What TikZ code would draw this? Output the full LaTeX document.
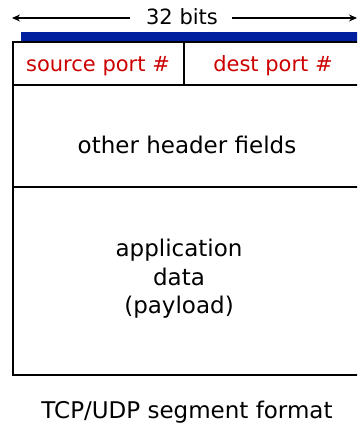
\documentclass[tikz,border=0pt]{standalone}
\usepackage{fontspec}
\setmainfont{DejaVu Sans}
\usetikzlibrary{arrows.meta}
\definecolor{barblue}{RGB}{0,32,160}
\definecolor{fieldred}{RGB}{204,0,0}
\begin{document}
\begin{tikzpicture}[x=1pt,y=-1pt,
  lbl/.style={font=\fontsize{23}{29}\selectfont, inner sep=0pt, anchor=base},
  smalllbl/.style={lbl, font=\fontsize{21}{26}\selectfont},
  redlbl/.style={smalllbl, text=fieldred},
  frame/.style={line width=2pt, draw=black},
  span/.style={line width=1.8pt, -{Stealth[length=8pt,width=7pt]}}]
\useasboundingbox (0,0) rectangle (357,425);
\clip (0,0) rectangle (357,425);
% width marker
\node[smalllbl] (bits) at (182,25) {32 bits};
\coordinate (aL) at (12,18);
\coordinate (aR) at (357,18);
\draw[span] (130,18) -- (aL);
\draw[span] (232,18) -- (aR);
% blue bar over the segment
\fill[barblue] (21,32) rectangle (362,41);
% segment frame and rows
\draw[frame] (13,42) rectangle (362,375);
\draw[frame] (13,85) -- (362,85);
\draw[frame] (13,187) -- (362,187);
\draw[frame] (184,42) -- (184,85);
% field labels
\node[redlbl] (src) at (98,72) {source port \#};
\node[redlbl] (dst) at (273,72) {dest port \#};
\node[lbl] (hdr) at (187,153) {other header fields};
\node[lbl] (app1) at (179,256) {application};
\node[lbl] (app2) at (179,285) {data};
\node[lbl] (app3) at (179,313) {(payload)};
\node[lbl] (cap) at (187,418) {TCP/UDP segment format};
\end{tikzpicture}
\end{document}
